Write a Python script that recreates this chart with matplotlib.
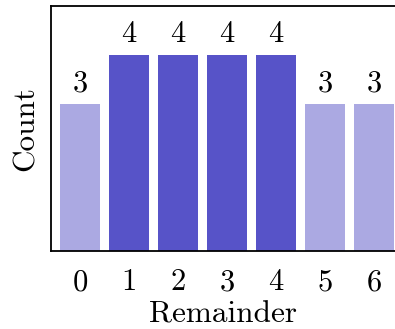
import matplotlib
matplotlib.use("Agg")
import matplotlib.pyplot as plt

remainders = [0, 1, 2, 3, 4, 5, 6]
counts = [3, 4, 4, 4, 4, 3, 3]
light = "#aba9e2"
dark = "#5753c8"
colors = [dark if c == max(counts) else light for c in counts]

plt.rcParams["font.family"] = "cmr10"
plt.rcParams["axes.formatter.use_mathtext"] = True

fig = plt.figure(figsize=(3.95, 3.29), dpi=100)
ax = fig.add_axes([51 / 395, 78 / 329, 344 / 395, 245 / 329])

bars = ax.bar(remainders, counts, width=0.82, color=colors)
ax.bar_label(bars, labels=[str(c) for c in counts], padding=5, fontsize=22)

ax.set_xlim(-0.59, 6.43)
ax.set_ylim(0, 5)
ax.set_xticks(remainders)
ax.set_yticks([])
ax.tick_params(axis="x", length=0, pad=13, labelsize=22)
ax.spines["right"].set_visible(False)
for s in ["left", "top", "bottom"]:
    ax.spines[s].set_linewidth(1.3)

ax.set_xlabel("Remainder", fontsize=22.5, labelpad=3)
ax.set_ylabel("Count", fontsize=22.5, labelpad=8)

fig.savefig("out.png", dpi=100)
